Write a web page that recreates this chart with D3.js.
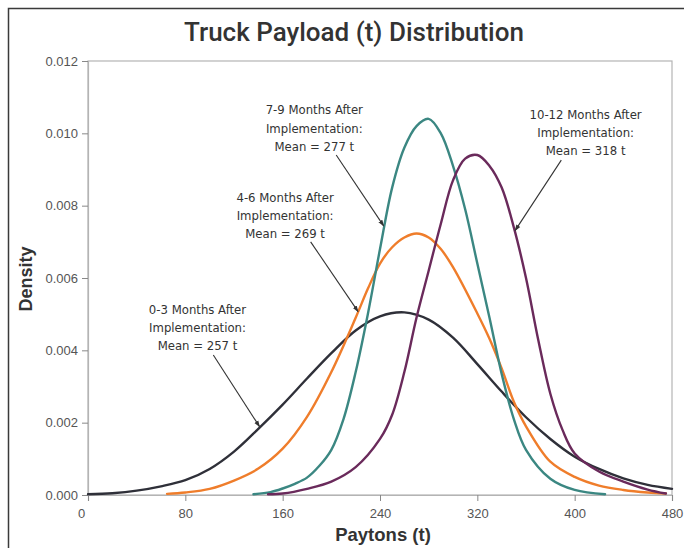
<!DOCTYPE html>
<html>
<head>
<meta charset="utf-8">
<script src="https://cdn.jsdelivr.net/npm/d3@7"></script>
<style>
  body { margin: 0; background: #fff; }
  svg { display: block; }
</style>
</head>
<body>
<svg id="paper"></svg>
<script>
// values (payload in t, density)
let t03 = [0, 20, 40, 60, 80, 100, 120, 140, 160, 180, 200, 220, 240, 260, 280, 300, 320, 340, 360, 380, 400, 420, 440, 460, 480];
let d03 = [0.00002, 0.00005, 0.00012, 0.00024, 0.00041, 0.00072, 0.00120, 0.00183, 0.00250, 0.00322, 0.00392, 0.00455, 0.00494, 0.00505, 0.00485, 0.00435, 0.00362, 0.00286, 0.00215, 0.00155, 0.00106, 0.00072, 0.00046, 0.00028, 0.00017];

let t46 = [65, 80, 100, 120, 140, 160, 180, 200, 220, 230, 240, 250, 260, 270, 280, 290, 300, 320, 330, 340, 350, 360, 380, 400, 420, 440, 460, 475];
let d46 = [0.00003, 0.00007, 0.00017, 0.00040, 0.00073, 0.00128, 0.00216, 0.00340, 0.00490, 0.00570, 0.00640, 0.00685, 0.00712, 0.00723, 0.00712, 0.00680, 0.00630, 0.00502, 0.00432, 0.00350, 0.00258, 0.00190, 0.00092, 0.00050, 0.00026, 0.00014, 0.00007, 0.00004];

let t79 = [136, 150, 160, 170, 180, 190, 200, 210, 220, 230, 240, 250, 260, 270, 280, 290, 300, 310, 320, 330, 340, 350, 360, 380, 400, 425];
let d79 = [0.00002, 0.00008, 0.00018, 0.00031, 0.00048, 0.00080, 0.00125, 0.00210, 0.00340, 0.00500, 0.00680, 0.00850, 0.00960, 0.01020, 0.01040, 0.01000, 0.00910, 0.00790, 0.00640, 0.00490, 0.00335, 0.00210, 0.00125, 0.00045, 0.00014, 0.00002];

let t1012 = [148, 160, 180, 200, 220, 240, 250, 260, 270, 280, 290, 300, 310, 320, 330, 340, 350, 360, 370, 380, 390, 400, 420, 440, 460, 475];
let d1012 = [0.00002, 0.00004, 0.00017, 0.00037, 0.00077, 0.00155, 0.00222, 0.00340, 0.00490, 0.00620, 0.00750, 0.00870, 0.00930, 0.00940, 0.00910, 0.00850, 0.00740, 0.00600, 0.00430, 0.00280, 0.00180, 0.00115, 0.00065, 0.00037, 0.00015, 0.00004];

let xTicks = [0, 80, 160, 240, 320, 400, 480];
let yTicks = [0, 0.002, 0.004, 0.006, 0.008, 0.010, 0.012];

let annoText = [
    ["0-3 Months After", "Implementation:", "Mean = 257 t"],
    ["4-6 Months After", "Implementation:", "Mean = 269 t"],
    ["7-9 Months After", "Implementation:", "Mean = 277 t"],
    ["10-12 Months After", "Implementation:", "Mean = 318 t"]
];
// label anchor, arrow start, arrow tip in data units
let annoLabel = [[90, 0.00514], [162, 0.00823], [186, 0.01065], [409, 0.01052]];
let annoFrom = [[103, 0.00387], [183, 0.00700], [204, 0.00940], [389, 0.00926]];
let annoTip = [[141, 0.00189], [222, 0.00507], [243, 0.00744], [351, 0.00731]];

let margin = {top: 61, right: 12, bottom: 53, left: 88},
    W = 684, H = 548,
    width = W - margin.left - margin.right,
    height = H - margin.top - margin.bottom;

let colors = ["#2f3039", "#ef7d2b", "#3b8782", "#6a2a5b"];
let series = [[t03, d03], [t46, d46], [t79, d79], [t1012, d1012]];

let svg = d3.select("#paper").attr("width", W).attr("height", H);

// outer frame (left + top edges)
svg.append("path")
    .attr("d", "M8.5," + H + "V8.5H" + W)
    .attr("fill", "none")
    .attr("stroke", "#3a3a3a")
    .attr("stroke-width", 1.5);

svg.append("text")
    .attr("x", 354).attr("y", 41)
    .attr("text-anchor", "middle")
    .style("font-family", "Roboto, 'Liberation Sans', sans-serif")
    .style("font-weight", 500)
    .style("font-size", "26px")
    .style("fill", "#333")
    .text("Truck Payload (t) Distribution");

let paper = svg.append("g")
    .attr("transform", "translate(" + margin.left + "," + margin.top + ")");

let x = d3.scaleLinear().domain([0, 480]).range([0, width]);
let y = d3.scaleLinear().domain([0, 0.012]).range([height, 0]);

// plot box
paper.append("rect")
    .attr("width", width).attr("height", height)
    .attr("fill", "none")
    .attr("stroke", "#b4b4b4")
    .attr("stroke-width", 1.2);

let xAxis = paper.append("g")
    .attr("transform", "translate(0," + height + ")")
    .call(d3.axisBottom(x).tickValues(xTicks).tickSize(6).tickPadding(8).tickFormat(d3.format("d")));
let yAxis = paper.append("g")
    .call(d3.axisLeft(y).tickValues(yTicks).tickSize(6).tickPadding(4).tickFormat(d3.format(".3f")));

[xAxis, yAxis].forEach(function (a) {
    a.select(".domain").attr("stroke", "#b4b4b4").attr("stroke-width", 1.2);
    a.selectAll(".tick line").attr("stroke", "#888");
    a.selectAll(".tick text")
        .style("font-family", "'Liberation Sans', Arial, sans-serif")
        .style("font-size", "13px")
        .style("fill", "#555");
});
xAxis.selectAll(".tick text").filter(d => d === 0).attr("dx", -7);

// curves
let line = d3.line()
    .x(d => x(d[0]))
    .y(d => y(d[1]))
    .curve(d3.curveCatmullRom.alpha(0.5));

series.forEach(function (s, i) {
    let pts = s[0].map((t, j) => [t, s[1][j]]);
    paper.append("path")
        .datum(pts)
        .attr("d", line)
        .attr("fill", "none")
        .attr("stroke", colors[i])
        .attr("stroke-width", 2.4)
        .attr("stroke-linecap", "round");
});

// annotations
svg.append("defs").append("marker")
    .attr("id", "arrow")
    .attr("viewBox", "0 0 10 10")
    .attr("refX", 9).attr("refY", 5)
    .attr("markerWidth", 6).attr("markerHeight", 6)
    .attr("orient", "auto")
    .append("path")
    .attr("d", "M0,1.5L10,5L0,8.5Z")
    .attr("fill", "#333");

annoText.forEach(function (lines, i) {
    paper.append("line")
        .attr("x1", x(annoFrom[i][0])).attr("y1", y(annoFrom[i][1]))
        .attr("x2", x(annoTip[i][0])).attr("y2", y(annoTip[i][1]))
        .attr("stroke", "#333")
        .attr("stroke-width", 1.1)
        .attr("marker-end", "url(#arrow)");
    let txt = paper.append("text")
        .attr("text-anchor", "middle")
        .style("font-family", "'Liberation Sans Narrow', 'DejaVu Sans Condensed', sans-serif")
        .style("font-size", "13px")
        .style("fill", "#333");
    lines.forEach(function (l, k) {
        txt.append("tspan")
            .attr("x", x(annoLabel[i][0]))
            .attr("y", y(annoLabel[i][1]) + k * 18.2)
            .attr("dy", "0.35em")
            .text(l);
    });
});

// axis titles
svg.append("text")
    .attr("x", 383).attr("y", 541)
    .attr("text-anchor", "middle")
    .style("font-family", "'Liberation Sans', Arial, sans-serif")
    .style("font-weight", "bold")
    .style("font-size", "18.5px")
    .style("fill", "#333")
    .text("Paytons (t)");

svg.append("text")
    .attr("transform", "translate(32,279) rotate(-90)")
    .attr("text-anchor", "middle")
    .style("font-family", "'Liberation Sans', Arial, sans-serif")
    .style("font-weight", "bold")
    .style("font-size", "18px")
    .style("fill", "#333")
    .text("Density");
</script>
</body>
</html>
